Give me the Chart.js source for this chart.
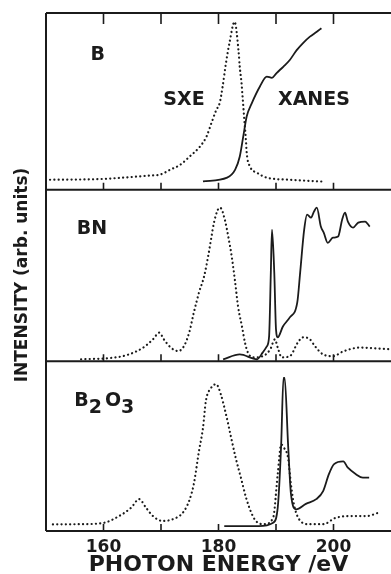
<!DOCTYPE html>
<html>
<head>
<meta charset="utf-8">
<script src="https://cdn.jsdelivr.net/npm/chart.js@4.4.0/dist/chart.umd.min.js"></script>
<style>
html,body{margin:0;padding:0;background:#fff;}
#wrap{width:391px;height:574px;position:relative;}
</style>
</head>
<body>
<div id="wrap"><canvas id="chart"></canvas></div>
<script>
// tick labels and tick marks of the energy axis
const energyLabels = [160, 180, 200]
const frameTicks = [160, 170, 180, 190, 200]

// panel B (boron), intensities 0-100 inside the panel
const sxeB_E = [150.7, 159.4, 165.1, 168.1, 169.8, 171.6, 173.3, 175.0, 176.8, 177.9, 178.8, 179.6, 180.2, 180.7, 181.3, 181.9, 182.8, 183.5, 183.7, 184.0, 184.2, 184.4, 184.6, 184.8, 184.9, 185.5, 186.7, 188.4, 192.4, 198.5]
const sxeB_I = [5.6, 6, 7.2, 8, 8.5, 11.3, 14, 18.8, 24.5, 30, 38, 45, 49, 58, 71.7, 83, 95, 78, 69.5, 60.5, 52, 43.5, 35, 26.5, 21, 13, 9.6, 6.8, 5.6, 4.5]
const xanesB_E = [177.3, 181.5, 182.9, 183.7, 184.3, 184.9, 185.8, 187.2, 188.4, 189.3, 190.1, 191.3, 192.4, 193.6, 194.7, 195.9, 197.1, 197.9]
const xanesB_I = [4.7, 6.8, 11.3, 18.8, 30, 41.4, 49, 58.4, 64, 63.3, 66, 69.7, 73.4, 79, 83, 86.6, 89.4, 91.4]

// panel BN
const sxeBN_E = [156.1, 161.7, 164.4, 166.9, 168.6, 169.7, 170.5, 171.7, 173.0, 174.0, 174.9, 175.7, 176.6, 177.5, 178.2, 178.7, 179.2, 179.9, 180.3, 181.1, 181.7, 182.3, 182.9, 183.4, 184.1, 184.6, 185.1, 186.0, 187.7, 189.0, 189.8, 190.3, 191.0, 192.4, 193.8, 194.7, 195.9, 196.8, 198.2, 199.9, 201.7, 204.6, 207.6, 209.8]
const sxeBN_I = [1.2, 2.1, 4, 8, 12.8, 16.7, 12.8, 8, 6, 8.9, 16.7, 28.3, 40, 49.6, 61.2, 71, 80.6, 88.4, 89.5, 82.5, 72.7, 61, 46, 32, 20, 11, 5.2, 2.3, 3, 7, 12.8, 8, 2.3, 3, 11, 14, 12.8, 8.7, 4, 3, 5.8, 8, 7.5, 7]
const xanesBN_E = [180.8, 183.7, 186.7, 187.7, 188.4, 188.8, 189.1, 189.3, 189.7, 190.0, 190.3, 191.2, 192.4, 193.7, 194.2, 194.9, 195.4, 196.1, 196.6, 197.1, 197.8, 198.3, 199.0, 199.9, 200.8, 201.5, 202.0, 202.5, 203.4, 204.3, 205.5, 206.3]
const xanesBN_I = [1.2, 4, 1.2, 5.2, 8.7, 14.5, 51.7, 76.7, 51.7, 18.6, 14, 20.3, 25.6, 34.3, 51.7, 76.7, 85.5, 83.7, 87.2, 89.5, 78.5, 75, 69, 72, 72.7, 82.5, 86.6, 81.4, 77.9, 80.8, 81.4, 78.5]

// panel B2O3
const sxeB2O3_E = [151.2, 155.7, 159.9, 162.7, 164.8, 166.2, 167.4, 168.6, 170.3, 172.1, 173.8, 174.9, 175.7, 176.6, 177.3, 177.8, 178.7, 179.6, 180.4, 181.3, 182.2, 183.0, 183.9, 184.8, 185.7, 186.5, 187.9, 189.5, 190.3, 190.9, 191.4, 192.1, 192.6, 193.1, 194.0, 195.7, 198.2, 200.4, 203.4, 205.7, 207.9]
const sxeB2O3_I = [3.9, 4, 4.7, 8.8, 13.7, 18.8, 13.7, 8.8, 5.9, 7, 10.8, 17.8, 27.6, 47, 60.8, 76.5, 84.3, 86.5, 80.6, 68.8, 55, 43, 31.4, 19.6, 10.8, 5.9, 4, 7.8, 33.5, 51, 49, 43, 27.6, 16, 7, 4, 4, 7.8, 8.8, 8.8, 10.8]
const xanesB2O3_E = [181.0, 187.0, 189.5, 190.3, 190.9, 191.3, 191.5, 192.1, 192.6, 193.5, 195.2, 197.0, 198.2, 199.2, 200.1, 201.7, 202.5, 203.9, 205.1, 206.2]
const xanesB2O3_I = [2.9, 2.9, 4.9, 13.7, 51, 90.2, 90.2, 51, 21.8, 12.8, 16, 18.8, 23.5, 33.5, 39.4, 41, 37.3, 33.5, 31.4, 31.4]

const ink = '#1b1b1b'
const panelAxes = ['yB', 'yBN', 'yB2O3']

//pairs energies with intensities for the line datasets
function toPoints(energies, values){
    return energies.map((e, i) => ({x: e, y: values[i]}))
}

function sxeSet(energies, values, axis){
    return {
        data: toPoints(energies, values),
        yAxisID: axis,
        borderColor: ink,
        borderWidth: 2.2,
        borderDash: [0.1, 4.2],
        borderCapStyle: 'round',
        pointRadius: 0,
        cubicInterpolationMode: 'monotone'
    }
}

function xanesSet(energies, values, axis){
    return {
        data: toPoints(energies, values),
        yAxisID: axis,
        borderColor: ink,
        borderWidth: 1.8,
        pointRadius: 0,
        cubicInterpolationMode: 'monotone'
    }
}

function panelScale(weight, order){
    return {
        type: 'linear',
        position: 'left',
        stack: 'panels',
        stackWeight: weight,
        weight: order,
        min: 0,
        max: 100,
        display: false
    }
}

//frame, inner ticks and the text written on the figure
const framePlugin = {
    id: 'frame',
    afterDraw(chart){
        const ctx = chart.ctx
        const x = chart.scales.x
        const panels = panelAxes.map(id => chart.scales[id])
        ctx.save()
        ctx.strokeStyle = ink
        ctx.fillStyle = ink
        ctx.lineWidth = 2
        ctx.beginPath()
        ctx.moveTo(x.left, panels[0].top)
        ctx.lineTo(x.left, panels[2].bottom)
        ctx.moveTo(x.left, panels[0].top)
        ctx.lineTo(x.right, panels[0].top)
        panels.forEach(p => {
            ctx.moveTo(x.left, p.bottom)
            ctx.lineTo(x.right, p.bottom)
        })
        ctx.stroke()

        ctx.lineWidth = 1.6
        ctx.beginPath()
        frameTicks.forEach(v => {
            const px = x.getPixelForValue(v)
            ctx.moveTo(px, panels[0].top)
            ctx.lineTo(px, panels[0].top + 11)
            panels.forEach(p => {
                ctx.moveTo(px, p.bottom)
                ctx.lineTo(px, p.bottom - 7)
            })
        })
        ctx.stroke()

        ctx.textBaseline = 'middle'
        ctx.textAlign = 'center'
        ctx.font = 'bold 19px "DejaVu Sans"'
        const yB = panels[0], yBN = panels[1], yO = panels[2]
        ctx.fillText('B', x.getPixelForValue(159.0), yB.getPixelForValue(76))
        ctx.fillText('SXE', x.getPixelForValue(174.0), yB.getPixelForValue(51))
        ctx.fillText('XANES', x.getPixelForValue(196.6), yB.getPixelForValue(51))
        ctx.fillText('BN', x.getPixelForValue(158.0), yBN.getPixelForValue(77))

        //B2O3 with lowered subscripts
        ctx.textAlign = 'left'
        let px = x.getPixelForValue(154.9)
        const py = yO.getPixelForValue(76.5)
        const parts = [['B', 0], ['2', 7], ['O', 0], ['3', 7]]
        parts.forEach(([t, dy]) => {
            ctx.fillText(t, px, py + dy)
            px += ctx.measureText(t).width + (t === '2' ? 3 : 0)
        })

        //vertical title
        ctx.save()
        ctx.translate(23, 275)
        ctx.rotate(-Math.PI / 2)
        ctx.textAlign = 'center'
        ctx.font = 'bold 17px "DejaVu Sans"'
        ctx.fillText('INTENSITY (arb. units)', 0, 0)
        ctx.restore()
        ctx.restore()
    }
}

function createChart(){
    const ctx = document.getElementById('chart').getContext('2d')
    new Chart(ctx, {
        type: 'line',
        data: {
            datasets: [
                sxeSet(sxeB_E, sxeB_I, 'yB'),
                xanesSet(xanesB_E, xanesB_I, 'yB'),
                sxeSet(sxeBN_E, sxeBN_I, 'yBN'),
                xanesSet(xanesBN_E, xanesBN_I, 'yBN'),
                sxeSet(sxeB2O3_E, sxeB2O3_I, 'yB2O3'),
                xanesSet(xanesB2O3_E, xanesB2O3_I, 'yB2O3')
            ]
        },
        options: {
            responsive: true,
            maintainAspectRatio: false,
            animation: false,
            layout: {padding: {left: 46, top: 13, right: 0, bottom: 0}},
            plugins: {legend: {display: false}, tooltip: {enabled: false}},
            scales: {
                x: {
                    type: 'linear',
                    min: 150,
                    max: 210,
                    afterBuildTicks: scale => { scale.ticks = energyLabels.map(v => ({value: v})) },
                    grid: {display: false, drawTicks: false},
                    border: {display: false},
                    ticks: {
                        color: ink,
                        padding: 8.5,
                        maxRotation: 0,
                        font: {family: 'DejaVu Sans', size: 17, weight: 'bold', lineHeight: 1}
                    },
                    title: {
                        display: true,
                        text: 'PHOTON ENERGY /eV',
                        color: ink,
                        padding: {top: -11, bottom: -2},
                        font: {family: 'DejaVu Sans', size: 22, weight: 'bold', lineHeight: 1}
                    }
                },
                yB: panelScale(177, 3),
                yBN: panelScale(172, 2),
                yB2O3: panelScale(170, 1)
            }
        },
        plugins: [framePlugin]
    })
}

createChart()
</script>
</body>
</html>
